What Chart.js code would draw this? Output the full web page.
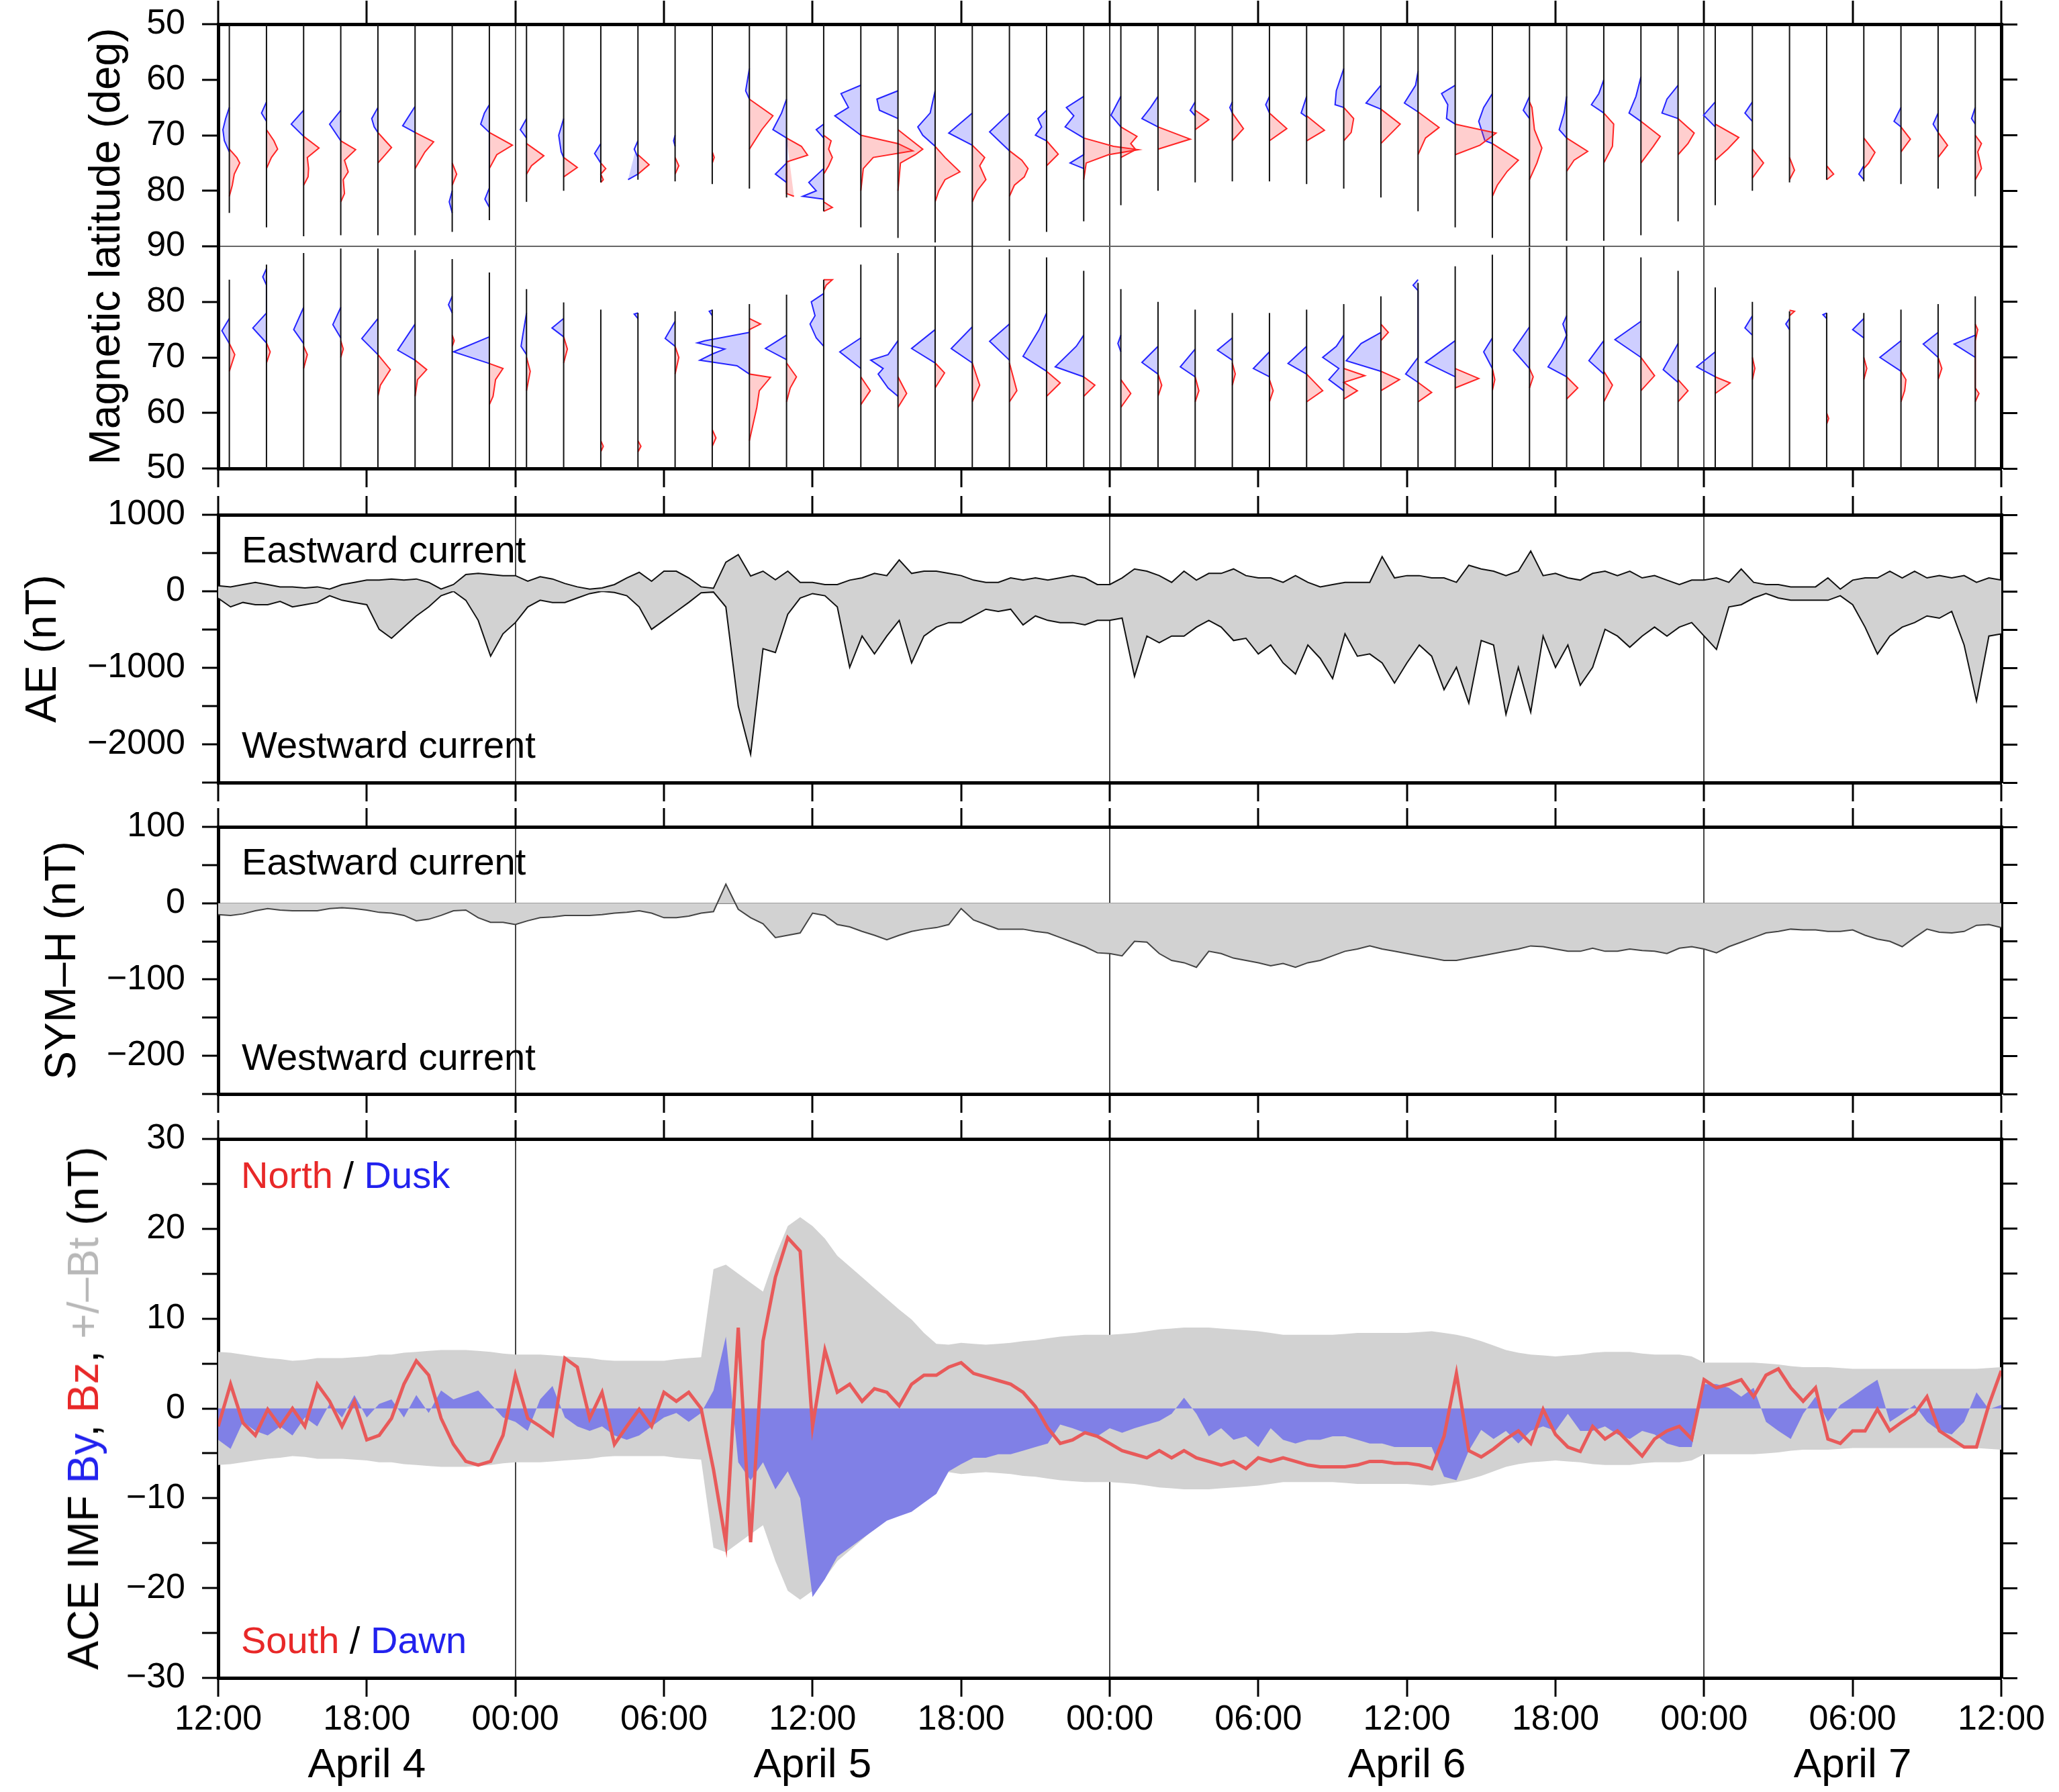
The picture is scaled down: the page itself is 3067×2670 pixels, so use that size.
<!DOCTYPE html>
<html>
<head>
<meta charset="utf-8">
<script src="https://cdn.jsdelivr.net/npm/chart.js@4.4.1/dist/chart.umd.min.js"></script>
<style>
  html, body { margin: 0; padding: 0; background: #fff; }
  #wrap { position: relative; width: 3067px; height: 2670px; overflow: hidden; background: #fff; }
  canvas { position: absolute; left: 0; }
  #imfTitle {
    position: absolute; left: 124px; top: 2098px;
    transform: translate(-50%, -50%) rotate(-90deg);
    font: 64px 'Liberation Sans', Arial, Helvetica, sans-serif;
    white-space: nowrap; color: #000;
  }
</style>
</head>
<body>
<div id="wrap">
  <canvas id="latChart" width="3067" height="735" style="top:0px"></canvas>
  <canvas id="aeChart" width="3067" height="464" style="top:735px"></canvas>
  <canvas id="symChart" width="3067" height="465" style="top:1199px"></canvas>
  <canvas id="imfChart" width="3067" height="1006" style="top:1664px"></canvas>
  <div id="imfTitle">ACE IMF <span style="color:#2222ee">By</span>, <span style="color:#e82828">Bz</span>, <span style="color:#b8b8b8">+/–Bt</span> (nT)</div>
</div>
<script>
// hours since 12:00 UT April 4
const HOURS = 72;
const STEP = 0.5;                 // sample spacing of the index series (h)
const dayLines = [12, 36, 60];    // 00:00 UT April 5, 6, 7
const timeLabels = ['12:00', '18:00', '00:00', '06:00', '12:00', '18:00', '00:00',
                    '06:00', '12:00', '18:00', '00:00', '06:00', '12:00'];
const dateTicks = [6, 24, 48, 66];
const dateLabels = ['April 4', 'April 5', 'April 6', 'April 7'];

// ---- satellite passes (top panel) ----
const passTimes = [0.45, 1.95, 3.45, 4.95, 6.45, 7.95, 9.45, 10.95, 12.45, 13.95, 15.45, 16.95,
  18.45, 19.95, 21.45, 22.95, 24.45, 25.95, 27.45, 28.95, 30.45, 31.95, 33.45, 34.95,
  36.45, 37.95, 39.45, 40.95, 42.45, 43.95, 45.45, 46.95, 48.45, 49.95, 51.45, 52.95,
  54.45, 55.95, 57.45, 58.95, 60.45, 61.95, 63.45, 64.95, 66.45, 67.95, 69.45, 70.95];
// poleward end of each pass (deg magnetic latitude)
const northEnd = [84, 86.6, 88.2, 88, 88, 88, 87.4, 85.3, 82, 80, 78.5, 78, 78.3, 78.8, 79.6, 81.2,
  83.7, 86.6, 88.5, 89.3, 90, 89, 87.4, 85.5, 82.6, 80, 78.5, 78.3, 78.3, 78.8, 79.6, 81.2,
  83.7, 86.6, 88.5, 90, 89, 89, 88, 85.5, 82.6, 80, 78.5, 78, 78.3, 78.8, 79.6, 81];
const southEnd = [84, 86.7, 88.8, 89.6, 89.6, 89.3, 87.7, 85.3, 82.3, 79.9, 78.6, 78, 78.3, 78.6, 79.6, 81.3,
  84, 86.7, 88.8, 90, 90, 89.5, 88, 85.6, 82.3, 80, 78.6, 78, 78, 78.6, 79.6, 81,
  83.4, 86.4, 88.5, 89.8, 90, 90, 88, 85.6, 82.6, 80, 78.3, 78, 78, 78.6, 79.6, 81];
// profiles: [latitude, offset in hours] (blue < 0, red > 0)
const northBlue = [
  [[65,0],[67,-0.15],[69,-0.26],[71,-0.2],[73,0]],
  [[64,0],[66,-0.2],[67.5,0]],
  [[65.5,0],[68,-0.5],[70.2,0]],
  [[65.5,0],[68,-0.45],[71,0]],
  [[65,0],[67,-0.25],[68.5,-0.15],[69.5,0]],
  [[64.8,0],[68.3,-0.5],[69.5,0]],
  [[80,0],[82,-0.12],[84,0]],
  [[64.5,0],[66,-0.2],[68,-0.35],[69.5,0],[79.5,0],[81.5,-0.18],[83,0]],
  [[67,0],[69,-0.25],[70.5,0]],
  [[67,0],[70,-0.2],[73,-0.1],[74,0]],
  [[71.5,0],[73.3,-0.25],[75,0]],
  [[71,0],[72.5,-0.15],[74,0],[77,0],[78,-0.4]],
  [[70,0],[71,-0.06],[72,0]],
  [],
  [[58,0],[62,-0.15],[63.5,0]],
  [[63.5,0],[66,-0.2],[69,-0.55],[70.5,0],[75,0],[77,-0.45],[78.5,0]],
  [[68,0],[69,-0.3],[70.5,0],[76,0],[78.5,-0.6],[80,-0.3],[81,-0.85],[81.5,0]],
  [[61,0],[62.5,-0.8],[65,-0.5],[66.5,-1.05],[70,0]],
  [[62,0],[63.5,-0.85],[65.5,-0.75],[67,0]],
  [[62,0],[66,-0.2],[68.5,-0.7],[70,-0.5],[72,0]],
  [[66,0],[69.6,-0.95],[71.8,0]],
  [[66,0],[69.4,-0.8],[72.8,0]],
  [[65.5,0],[67,-0.35],[68.5,-0.2],[70,-0.45],[71,0]],
  [[63,0],[65,-0.7],[66.5,-0.4],[68.5,-0.75],[70.5,0],[73.5,0],[75,-0.55],[76,0]],
  [[63,0],[66.4,-0.4],[68.5,0]],
  [[63,0],[65,-0.3],[67,-0.65],[68.5,0]],
  [[64,0],[65.5,-0.2],[66.5,0]],
  [[64,0],[65,-0.1],[66,0]],
  [[63,0],[64.5,-0.15],[66,0]],
  [[63,0],[66,-0.22],[66.7,0]],
  [[58,0],[62,-0.3],[64.5,-0.35],[65,0]],
  [[61,0],[64.2,-0.6],[65.3,0]],
  [[58.5,0],[61,-0.1],[64.2,-0.55],[65.8,0]],
  [[61,0],[62.5,-0.55],[64.5,-0.3],[67,-0.35],[68,0]],
  [[62.5,0],[65,-0.35],[67.5,-0.55],[71,-0.3],[71.5,0]],
  [[63,0],[65.5,-0.25],[67,0]],
  [[63,0],[66,-0.1],[69,-0.3],[70.5,0]],
  [[60,0],[62.5,-0.2],[64.5,-0.5],[66,0]],
  [[59.5,0],[63,-0.2],[66,-0.48],[67.5,0]],
  [[61,0],[63.5,-0.45],[66,-0.65],[67,0]],
  [[64,0],[66.4,-0.47],[68.5,0]],
  [[64,0],[66,-0.3],[67.5,0]],
  [],
  [],
  [[75.5,0],[77,-0.2],[78,0]],
  [[65,0],[67.5,-0.28],[68.5,0]],
  [[66,0],[68,-0.2],[69.5,0]],
  [[65,0],[67,-0.15],[68,0]]
];
const northRed = [
  [[72.5,0],[74,0.3],[75,0.42],[77,0.2],[79,0.12],[81,0]],
  [[69,0],[71,0.3],[72.5,0.45],[74,0.2],[76,0]],
  [[70.2,0],[72.3,0.62],[74,0.15],[76,0.2],[77.5,0.18],[79,0]],
  [[71,0],[72.6,0.6],[74.5,0.15],[76.6,0.3],[78,0.1],[80.5,0.15],[82,0]],
  [[69.5,0],[71,0.3],[72.2,0.55],[73.5,0.3],[75,0]],
  [[69.5,0],[71.2,0.75],[73,0.4],[74.5,0.2],[76,0]],
  [[75,0],[77,0.18],[79,0]],
  [[69.5,0],[71.8,0.93],[73.5,0.3],[76,0]],
  [[71.5,0],[73.7,0.7],[75.5,0.2],[77,0]],
  [[74,0],[75.8,0.55],[77.5,0]],
  [[75,0],[76,0.2],[77,0],[78,0.1],[78.5,0]],
  [[73.5,0],[75.3,0.45],[77,0]],
  [[74,0],[75.5,0.15],[77,0]],
  [[73,0],[74,0.08],[75,0]],
  [[63.5,0],[66.5,0.95],[69,0.5],[72.5,0]],
  [[70.5,0],[72,0.6],[73.6,0.85],[74.8,0],[80.5,0],[81,0.3]],
  [[70,0],[71,0.3],[72.5,0.2],[74,0.35],[75.5,0.2],[77,0],[82,0],[83,0.35],[83.7,0]],
  [[70,0],[71.5,1.5],[72.8,2.1],[74,0.5],[76,0.1],[80,0]],
  [[69,0],[72.5,1.0],[73.5,0.7],[75,0.1],[80,0]],
  [[72,0],[74,0.4],[76.6,1.0],[78,0.4],[80,0.15],[82,0]],
  [[71.8,0],[74,0.5],[75.5,0.3],[78,0.55],[80,0.2],[82,0]],
  [[72.8,0],[74.5,0.5],[76,0.75],[77.5,0.6],[79,0.2],[81,0]],
  [[71,0],[73.4,0.47],[75.5,0]],
  [[70.5,0],[72,1.2],[72.6,2.2],[73.5,1.0],[75,0.1],[78,0]],
  [[68.5,0],[70.2,0.65],[71.5,0.4],[72.6,0.6],[74,0]],
  [[68.5,0],[70.7,1.3],[72.5,0]],
  [[65.5,0],[67.2,0.55],[69,0]],
  [[66,0],[68.8,0.45],[71,0]],
  [[66,0],[68.8,0.7],[71,0]],
  [[66.5,0],[69.1,0.72],[71,0]],
  [[65,0],[67,0.4],[69.5,0.3],[71,0]],
  [[65.3,0],[68,0.78],[71.5,0]],
  [[65.8,0],[68.6,0.85],[70.5,0.3],[73.5,0]],
  [[68,0],[69.6,1.65],[71.8,1.0],[73.5,0]],
  [[71.5,0],[74.5,1.05],[76.5,0.6],[79,0.2],[81,0]],
  [[64,0],[65,0.1],[69,0.2],[72.3,0.5],[75,0.3],[78,0]],
  [[70.5,0],[72.9,0.85],[74.5,0.3],[76.5,0]],
  [[66,0],[68,0.4],[72,0.35],[75,0]],
  [[67.5,0],[70.2,0.78],[72,0.5],[75,0]],
  [[67,0],[69.6,0.65],[71.5,0.4],[73.5,0]],
  [[68,0],[70.4,0.95],[72.5,0.5],[74.5,0]],
  [[72.5,0],[75,0.45],[77.7,0]],
  [[74,0],[76.3,0.2],[78,0]],
  [[75.5,0],[77,0.28],[78,0]],
  [[70.5,0],[73.1,0.45],[75,0.2],[76,0]],
  [[68.5,0],[70.7,0.38],[73,0]],
  [[69.5,0],[71.8,0.38],[74,0]],
  [[70,0],[71.5,0.25],[73,0.1],[76,0.25],[78,0]]
];
const southBlue = [
  [[77,0],[74.8,-0.3],[72.5,0]],
  [[86,0],[84.5,-0.15],[83,0],[78,0],[75.3,-0.55],[72.6,0]],
  [[79,0],[75,-0.4],[72.5,0]],
  [[79,0],[75.9,-0.32],[73.5,0]],
  [[77,0],[73.4,-0.65],[70.5,0]],
  [[76,0],[71.3,-0.7],[69.5,0]],
  [[81,0],[79.5,-0.15],[78,0]],
  [[73.7,0],[71,-1.45],[68.9,0]],
  [[78,0],[74,-0.15],[72,-0.22],[70.5,0]],
  [[77,0],[75.3,-0.47],[73.7,0]],
  [],
  [[78,0],[77.8,-0.15],[77,0]],
  [[76.5,0],[73.4,-0.4],[72,0]],
  [[78.5,0],[78.3,-0.12],[77.5,0]],
  [[74.5,0],[73,-1.8],[72.6,-2.1],[71.5,-1.0],[70.6,-1.5],[69.5,-2.0],[68.5,-0.5],[67,0]],
  [[74,0],[71.6,-0.85],[69.6,0]],
  [[81.5,0],[80,-0.5],[77.5,-0.35],[76,-0.55],[73.5,-0.3],[72,0]],
  [[73.5,0],[71,-0.85],[68,0]],
  [[73,0],[70.5,-0.4],[69.5,-1.1],[68,-0.6],[67,-0.8],[64.5,-0.4],[63,0]],
  [[75,0],[71.6,-0.95],[69,0]],
  [[75.5,0],[71.6,-0.85],[69,0]],
  [[76,0],[72.9,-0.8],[69.5,0]],
  [[78,0],[75,-0.3],[70.2,-0.95],[67.5,0]],
  [[74,0],[72,-0.3],[68.3,-1.15],[66.5,0]],
  [[74,0],[72.5,-0.12],[71,0]],
  [[72,0],[69.1,-0.65],[67,0]],
  [[71.5,0],[68.3,-0.6],[66.5,0]],
  [[73.5,0],[71.3,-0.6],[69.5,0]],
  [[71,0],[68,-0.65],[66.5,0]],
  [[72,0],[68.9,-0.75],[67,0]],
  [[74,0],[72,-0.3],[70,-0.85],[68,-0.2],[66,-0.6],[64,0]],
  [[74.5,0],[72.5,-0.8],[69.4,-1.4],[67.5,0]],
  [[84,0],[83,-0.2],[82,0],[70,0],[67,-0.5],[65.5,0]],
  [[73,0],[69.1,-1.2],[66.5,0]],
  [[73.5,0],[71,-0.35],[68,0]],
  [[75.5,0],[71.3,-0.65],[68,0]],
  [[77.5,0],[76,-0.15],[74,0],[72,-0.2],[68.3,-0.75],[66.5,0]],
  [[73,0],[69.4,-0.6],[67,0]],
  [[76.5,0],[73.2,-1.05],[70,0]],
  [[72.5,0],[67.8,-0.6],[65.5,0]],
  [[71,0],[68.3,-0.75],[66.5,0]],
  [[77.5,0],[75.3,-0.3],[74,0]],
  [[77,0],[76,-0.15],[75,0]],
  [[78,0],[77.7,-0.15],[77,0]],
  [[77,0],[75,-0.45],[73.5,0]],
  [[73,0],[70,-0.85],[67.5,0]],
  [[74.5,0],[72.4,-0.6],[70,0]],
  [[74,0],[72.4,-0.85],[70,0]]
];
const southRed = [
  [[72.5,0],[70.5,0.22],[67.5,0]],
  [[72.6,0],[71,0.15],[69,0]],
  [[72,0],[70.5,0.15],[68,0]],
  [[73,0],[71.5,0.1],[70,0]],
  [[70.5,0],[67.8,0.5],[65,0.1],[63,0]],
  [[69.5,0],[67.8,0.47],[66,0.1],[63,0]],
  [[74,0],[73,0.08],[72,0]],
  [[68.9,0],[68,0.55],[66,0.25],[63,0.15],[61.5,0]],
  [[70,0],[67.5,0.15],[64,0]],
  [[73.7,0],[71.5,0.15],[69,0]],
  [[55,0],[54,0.1],[53,0]],
  [[55,0],[54,0.12],[53,0]],
  [[72,0],[70,0.15],[67,0]],
  [[57,0],[55.5,0.15],[54,0]],
  [[77,0],[76,0.45],[75,0],[67,0],[66.4,0.85],[64,0.4],[61,0.3],[58,0.15],[55,0]],
  [[69,0],[66.5,0.4],[64.5,0.15],[62,0]],
  [[84,0],[84,0.35],[83,0.1],[82,0]],
  [[66.5,0],[64,0.38],[61.5,0]],
  [[66.5,0],[63.5,0.35],[61,0]],
  [[69,0],[67.2,0.38],[64.5,0]],
  [[69,0],[65,0.3],[62,0]],
  [[69,0],[64,0.3],[62,0]],
  [[67.5,0],[65.4,0.55],[63,0]],
  [[66.5,0],[65,0.45],[63,0]],
  [[66,0],[63.5,0.4],[61,0]],
  [[67,0],[65,0.15],[63,0]],
  [[66.5,0],[64,0.15],[62,0]],
  [[69,0],[67,0.12],[65,0]],
  [[66,0],[64,0.15],[62,0]],
  [[67,0],[64,0.65],[62,0]],
  [[68,0],[66.7,0.85],[65.5,0],[64,0.55],[62.5,0]],
  [[76,0],[74.5,0.3],[73,0],[67.5,0],[66,0.75],[64,0]],
  [[65.5,0],[63.7,0.55],[62,0]],
  [[68,0],[66.2,0.95],[64.5,0]],
  [[68,0],[66,0.1],[64,0]],
  [[68,0],[66.5,0.15],[64.5,0]],
  [[66.5,0],[64.5,0.45],[62.5,0]],
  [[67.5,0],[65,0.35],[62,0]],
  [[70,0],[66.7,0.55],[64,0]],
  [[66,0],[64,0.4],[62,0]],
  [[66.5,0],[65.4,0.6],[63.5,0]],
  [[70,0],[68,0.1],[66,0]],
  [[78.5,0],[78.3,0.2],[77.5,0]],
  [[60,0],[59,0.08],[58,0]],
  [[70,0],[68,0.12],[66,0]],
  [[67.5,0],[66,0.2],[64,0.15],[62,0]],
  [[70,0],[68,0.15],[66,0]],
  [[76,0],[75,0.1],[73,0],[64.5,0],[63.5,0.15],[62,0]]
];

// ---- indices, every 30 min from 12:00 UT April 4 ----
const auValues = [73,58,88,117,88,58,58,44,58,29, 88,117,146,146,161,146,161,117,29,88,
  219,234,219,205,205,132,190,161,102,58, 29,44,88,175,248,132,263,263,175,58,
  40,380,480,200,263,150,263,117,117,88, 88,146,175,234,205,409,234,263,263,234,
  205,146,117,117,175,146,175,146,175,205, 175,88,88,175,292,263,205,117,263,146,
  234,234,292,205,175,175,117,205,117,58, 88,117,117,117,453,175,205,205,175,175,
  117,340,292,263,205,263,526,205,234,175, 146,234,263,205,263,175,205,146,88,146,
  146,175,117,292,117,88,88,58,58,58, 175,29,146,175,175,263,175,263,175,205,
  175,205,117,175,146];
const alValues = [-90,-204,-146,-175,-175,-132,-204,-175,-146,-58, -117,-146,-175,-497,-614,-468,-322,-204,-58,0,
  -117,-380,-848,-555,-409,-204,-117,-146,-146,-88, -30,0,-15,-58,-204,-497,-380,-263,-146,-20,
  -10,-204,-1500,-2130,-750,-800,-300,-88,-30,-58, -204,-994,-585,-819,-585,-380,-936,-585,-468,-409,
  -409,-322,-234,-263,-234,-439,-322,-380,-409,-409, -439,-380,-380,-351,-1111,-585,-673,-585,-585,-468,
  -380,-468,-643,-614,-819,-702,-936,-1082,-702,-877, -1140,-556,-848,-819,-936,-1199,-936,-702,-848,-1286,
  -994,-1462,-643,-702,-1608,-994,-1579,-585,-994,-702, -1228,-994,-497,-585,-731,-585,-468,-585,-468,-409,
  -585,-760,-204,-175,-88,-30,-88,-117,-117,-117, -117,-58,-175,-468,-819,-585,-468,-409,-322,-351,
  -263,-702,-1433,-585,-556];
const symhValues = [-15,-16,-14,-10,-7,-9,-10,-10,-10,-7, -6,-7,-9,-12,-13,-16,-23,-21,-16,-10,
  -9,-19,-25,-25,-28,-23,-19,-18,-16,-16, -16,-15,-13,-12,-10,-13,-19,-19,-17,-13,
  -11,25,-8,-19,-27,-45,-42,-39,-13,-16, -28,-31,-37,-42,-48,-42,-37,-34,-32,-28,
  -7,-22,-28,-34,-34,-34,-37,-39,-45,-51, -57,-65,-66,-69,-50,-51,-66,-75,-78,-84,
  -63,-66,-72,-75,-78,-82,-79,-84,-78,-75, -69,-63,-60,-56,-60,-63,-66,-69,-72,-75,
  -75,-72,-69,-66,-63,-60,-56,-57,-60,-63, -63,-59,-63,-63,-60,-62,-63,-66,-59,-57,
  -60,-65,-57,-51,-45,-39,-37,-34,-35,-35, -37,-37,-35,-42,-47,-50,-57,-45,-34,-38,
  -39,-37,-29,-28,-32];
const btValues = [6.3,6.2,6.0,5.8,5.6,5.5,5.3,5.4,5.6,5.6, 5.6,5.7,5.8,6.0,6.0,6.2,6.3,6.4,6.5,6.5,
  6.5,6.4,6.3,6.1,6.0,6.0,6.0,5.9,5.8,5.7, 5.6,5.4,5.3,5.3,5.3,5.3,5.3,5.5,5.6,5.7,
  15.5,16,15,14,13,17,20.3,21.3,20.3,18.9, 17,15.8,14.6,13.4,12.2,11,9.9,8.4,7.2,7.1,
  7.3,7.2,7.1,7.2,7.3,7.5,7.6,7.8,8.0,8.1, 8.2,8.2,8.2,8.3,8.4,8.6,8.8,8.9,9.0,9.0,
  9.0,8.9,8.8,8.7,8.6,8.4,8.2,8.2,8.2,8.2, 8.2,8.3,8.4,8.4,8.4,8.4,8.4,8.5,8.6,8.4,
  8.2,7.9,7.5,7.0,6.5,6.2,6.0,5.9,5.8,5.9, 6.0,6.2,6.3,6.3,6.3,6.1,6.0,6.0,6.0,5.8,
  5.1,5.1,5.1,5.1,5.1,5.0,4.9,4.7,4.6,4.6, 4.6,4.5,4.4,4.4,4.4,4.4,4.4,4.4,4.4,4.4,
  4.4,4.4,4.4,4.5,4.6];
const byValues = [-3.5,-4.5,-1.5,-2.5,-3,-2,-3,-1,-2,0.5, -1,1.5,-1,0.5,1,-1,1.5,-0.5,2,1,
  1.5,2,0.5,-1,-1.5,-2.5,1,2.5,-1,-2, -2.5,-2,-3,-3.5,-3,-2,-1,-0.5,-1.5,-0.5,
  2,8,-6,-8,-6,-9,-7,-10,-21,-19, -16.5,-15.5,-14.5,-13.5,-12.5,-12,-11.5,-10.5,-9.5,-7,
  -6.2,-5.5,-5.5,-5.1,-5.1,-4.7,-4.3,-3.9,-1.8,-2.2, -2.7,-3.1,-2.2,-2.7,-2.2,-1.8,-1.4,-0.6,1.2,-0.6,
  -3.1,-2.2,-3.5,-3.1,-4.3,-2.2,-3.5,-3.9,-3.5,-3.5, -3.1,-3.1,-3.5,-3.9,-3.9,-4.3,-4.3,-4.3,-4.3,-7.6,
  -8,-4.7,-2.4,-3.4,-2.5,-3.9,-2.5,-2,-2.5,-0.6, -2.5,-2.5,-2,-2.9,-3.4,-2.5,-2.9,-3.9,-4.3,-4.3,
  2.7,2.7,2.3,1.3,2.3,-1.5,-2.5,-3.4,-0.6,1.3, -1.5,0.4,1.3,2.3,3.2,-1.5,-0.6,0.4,-1.5,-2.5,
  -2.9,-1.5,1.8,-0.1,0.4];
const bzValues = [-2,2.7,-1.6,-3,-0.1,-2,0,-2,2.7,0.8, -2,0.8,-3.5,-3,-1.1,2.7,5.3,3.7,-1.1,-4,
  -5.9,-6.3,-5.9,-3,3.7,-1.1,-2,-3,5.6,4.6, -1.1,1.8,-4,-2,-0.1,-2,1.8,0.8,1.8,0,
  -6.8,-15,9,-14.9,7.5,14.6,19,17.5,-2,6.5, 1.8,2.7,0.8,2.2,1.8,0.3,2.7,3.7,3.7,4.6,
  5.1,3.9,3.5,3.1,2.7,1.8,0.2,-2.2,-3.9,-3.5, -2.7,-3.1,-3.9,-4.7,-5.1,-5.5,-4.7,-5.5,-4.7,-5.5,
  -5.9,-6.3,-5.9,-6.7,-5.5,-5.9,-5.5,-5.9,-6.3,-6.5, -6.5,-6.5,-6.3,-5.9,-5.9,-6.1,-6.1,-6.3,-6.7,-3.1,
  3.9,-4.7,-5.4,-4.5,-3.4,-2.5,-3.9,-0.1,-2.9,-4.3, -4.8,-2,-3.4,-2.5,-3.9,-5.3,-3.4,-2.5,-2,-3.4,
  3.2,2.3,2.7,3.2,1.3,3.7,4.4,2.3,0.8,2.3, -3.4,-3.9,-2.5,-2.5,-0.1,-2.5,-1.5,-0.6,1.3,-2.5,
  -3.4,-4.3,-4.3,0.4,4.2];

// ---- styling ----
const FONT = "'Liberation Sans', Arial, Helvetica, sans-serif";
Chart.defaults.font.family = FONT;
Chart.defaults.color = '#000';

const GRAY = '#d2d2d2';
const NONE = 'rgba(0,0,0,0)';

const series = vals => vals.map((v, i) => ({ x: i * STEP, y: v }));
const minus = v => (v < 0 ? '\u2212' + Math.abs(v) : String(v));

function xAxis(pos, height, tick, labels) {
  return {
    type: 'linear', position: pos, min: 0, max: HOURS, z: 1,
    afterFit: s => { s.height = height; },
    ticks: labels
      ? { stepSize: 6, autoSkip: false, maxRotation: 0, padding: 3, font: { size: 52 },
          callback: (v, i) => timeLabels[i] }
      : { stepSize: 6, display: false },
    grid: {
      drawOnChartArea: pos === 'bottom',
      color: c => (dayLines.includes(c.tick.value) ? '#444' : NONE),
      lineWidth: 2, tickColor: '#000', tickWidth: 3, tickLength: tick
    },
    border: { display: true, width: 5, color: '#000' }
  };
}

// fixed axis width; end labels may overhang the frame like in the figure
function lockWidth(width) {
  return s => { s.width = width; s.paddingTop = 0; s.paddingBottom = 0; };
}

function yAxis({ min, max, step, every, fmt, title, pad, line, lineColor, reverse }) {
  return {
    type: 'linear', position: 'left', min, max, reverse: !!reverse, z: 1,
    afterFit: lockWidth(325),
    ticks: { stepSize: step, autoSkip: false, padding: 25, font: { size: 52 },
      callback: v => (Math.abs(v % every) < 1e-9 ? fmt(v) : '') },
    grid: {
      color: c => (c.tick.value === line ? (lineColor || '#888') : NONE),
      lineWidth: 2, tickColor: '#000', tickWidth: 3, tickLength: 24
    },
    border: { display: true, width: 5, color: '#000' },
    title: { display: !!title, text: title, font: { size: 64 }, padding: { top: pad, bottom: 0 } }
  };
}

function yRight(min, max, step, reverse) {
  return {
    type: 'linear', position: 'right', min, max, reverse: !!reverse, z: 1,
    afterFit: lockWidth(86),
    ticks: { stepSize: step, display: false },
    grid: { drawOnChartArea: false, tickColor: '#000', tickWidth: 3, tickLength: 24 },
    border: { display: true, width: 5, color: '#000' }
  };
}

// coloured in-panel labels placed with the chart's own scales
const notesPlugin = {
  id: 'notes',
  afterDraw(chart, args, opts) {
    const { ctx } = chart;
    const x = chart.scales.x, y = chart.scales.y;
    ctx.save();
    ctx.font = `56px ${FONT}`;
    ctx.textBaseline = 'middle';
    ctx.textAlign = 'left';
    for (const n of opts.items || []) {
      let px = x.getPixelForValue(n.x);
      const py = y.getPixelForValue(n.y);
      for (const [text, color] of n.parts) {
        ctx.fillStyle = color;
        ctx.fillText(text, px, py);
        px += ctx.measureText(text).width;
      }
    }
    ctx.restore();
  }
};

function baseOptions(scales, notes) {
  return {
    responsive: false, animation: false, devicePixelRatio: 1, events: [],
    layout: { padding: 0 },
    elements: { point: { radius: 0 }, line: { tension: 0 } },
    plugins: { legend: { display: false }, tooltip: { enabled: false }, notes: { items: notes || [] } },
    scales
  };
}

// ---- panel 1: magnetic latitude passes ----
const latPos = (lat, south) => (south ? 130 - lat : lat - 50);
const latSets = [];
passTimes.forEach((t, k) => {
  const halves = [
    [false, northEnd[k], northBlue[k], northRed[k]],
    [true, southEnd[k], southBlue[k], southRed[k]]
  ];
  for (const [south, end, blue, red] of halves) {
    latSets.push({
      data: [{ x: t, y: latPos(50, south) }, { x: t, y: latPos(end, south) }],
      borderColor: '#111', borderWidth: 2, fill: false, order: 0
    });
    const profs = [[blue, '#2424ff', 'rgba(50,50,255,0.24)'], [red, '#ff2424', 'rgba(255,50,50,0.24)']];
    for (const [prof, line, fillCol] of profs) {
      if (!prof.length) continue;
      latSets.push({
        data: prof.map(([lat, a]) => ({ x: t + a, y: latPos(lat, south) })),
        borderColor: line, backgroundColor: fillCol, borderWidth: 2, fill: 'shape', order: 1
      });
    }
  }
});

new Chart(document.getElementById('latChart'), {
  type: 'line',
  data: { datasets: latSets },
  options: baseOptions({
    x: xAxis('bottom', 37, 28),
    xt: xAxis('top', 36, 35),
    y: yAxis({ min: 0, max: 80, step: 10, every: 10, fmt: v => String(v <= 40 ? 50 + v : 130 - v),
      title: 'Magnetic latitude (deg)', pad: 122, line: 40, lineColor: '#666', reverse: true }),
    yr: yRight(0, 80, 10, true)
  })
});

// ---- panel 2: AE (AU / AL) ----
new Chart(document.getElementById('aeChart'), {
  type: 'line',
  data: {
    datasets: [
      { data: series(auValues), borderColor: '#111', borderWidth: 2, backgroundColor: GRAY, fill: 'origin' },
      { data: series(alValues), borderColor: '#111', borderWidth: 2, backgroundColor: GRAY, fill: 'origin' }
    ]
  },
  options: baseOptions({
    x: xAxis('bottom', 33, 28),
    xt: xAxis('top', 32, 28),
    y: yAxis({ min: -2500, max: 1000, step: 500, every: 1000, fmt: minus, title: 'AE (nT)', pad: 27, line: 0 }),
    yr: yRight(-2500, 1000, 500)
  }, [
    { x: 0.95, y: 510, parts: [['Eastward current', '#000']] },
    { x: 0.95, y: -2040, parts: [['Westward current', '#000']] }
  ]),
  plugins: [notesPlugin]
});

// ---- panel 3: SYM-H ----
new Chart(document.getElementById('symChart'), {
  type: 'line',
  data: {
    datasets: [
      { data: series(symhValues), borderColor: '#444', borderWidth: 2, backgroundColor: GRAY, fill: 'origin' }
    ]
  },
  options: baseOptions({
    x: xAxis('bottom', 34, 28),
    xt: xAxis('top', 33, 28),
    y: yAxis({ min: -250, max: 100, step: 50, every: 100, fmt: minus, title: 'SYM–H (nT)', pad: 56, line: 0 }),
    yr: yRight(-250, 100, 50)
  }, [
    { x: 0.95, y: 51, parts: [['Eastward current', '#000']] },
    { x: 0.95, y: -205, parts: [['Westward current', '#000']] }
  ]),
  plugins: [notesPlugin]
});

// ---- panel 4: ACE IMF ----
const imfScales = {
  x: xAxis('bottom', 90, 28, true),
  xt: xAxis('top', 33, 28),
  xd: {
    type: 'linear', position: 'bottom', min: 0, max: HOURS, weight: 1,
    afterFit: s => { s.height = 80; },
    afterBuildTicks: s => { s.ticks = dateTicks.map(v => ({ value: v })); },
    ticks: { autoSkip: false, maxRotation: 0, padding: 4, font: { size: 62 }, callback: (v, i) => dateLabels[i] },
    grid: { display: false, drawTicks: false },
    border: { display: false }
  },
  y: yAxis({ min: -30, max: 30, step: 5, every: 10, fmt: minus, title: '', pad: 0, line: 0, lineColor: '#555' }),
  yr: yRight(-30, 30, 5)
};
new Chart(document.getElementById('imfChart'), {
  type: 'line',
  data: {
    datasets: [
      { data: series(bzValues), borderColor: '#e85a5a', borderWidth: 5, fill: false },
      { data: series(byValues), borderWidth: 0, borderColor: NONE, backgroundColor: '#8080e6', fill: 'origin' },
      { data: series(btValues), borderWidth: 0, borderColor: NONE, backgroundColor: GRAY, fill: '+1' },
      { data: series(btValues.map(v => -v)), borderWidth: 0, borderColor: NONE, fill: false }
    ]
  },
  options: baseOptions(imfScales, [
    { x: 0.92, y: 25.7, parts: [['North', '#e82828'], [' / ', '#000'], ['Dusk', '#2222ee']] },
    { x: 0.92, y: -26.1, parts: [['South', '#e82828'], [' / ', '#000'], ['Dawn', '#2222ee']] }
  ]),
  plugins: [notesPlugin]
});
</script>
</body>
</html>
